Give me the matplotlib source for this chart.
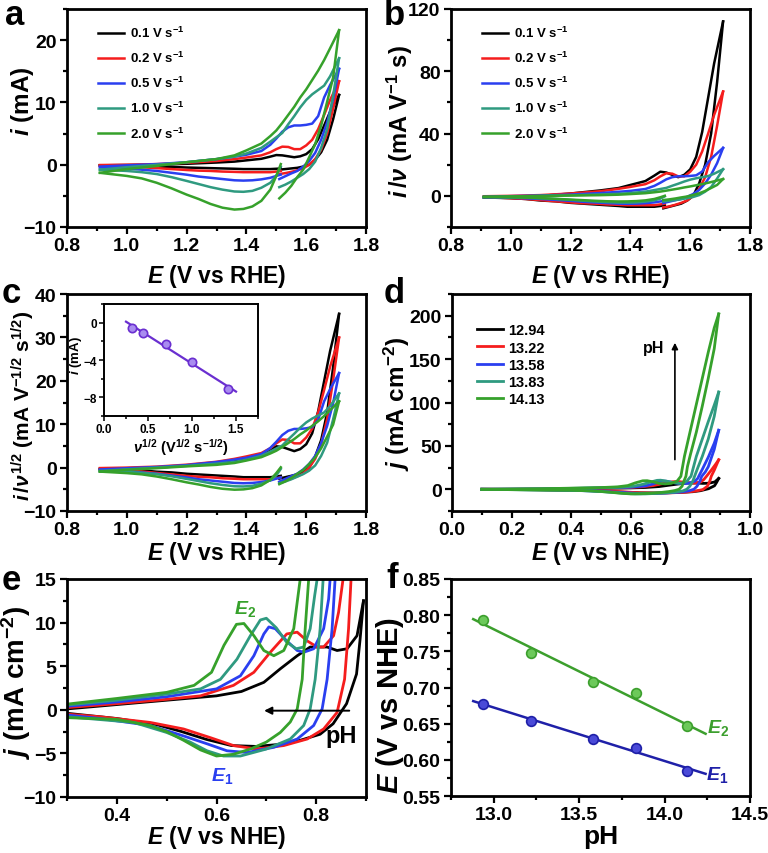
import numpy as np
import matplotlib
matplotlib.use("Agg")
import matplotlib.pyplot as plt
from matplotlib.ticker import MultipleLocator

plt.rcParams.update({
    "font.family": "Liberation Sans",
    "font.weight": "bold",
    "axes.labelweight": "bold",
    "mathtext.fontset": "custom",
    "mathtext.rm": "Liberation Sans:bold",
    "mathtext.it": "Liberation Sans:italic:bold",
    "mathtext.bf": "Liberation Sans:bold",
    "mathtext.sf": "Liberation Sans:bold",
})

# ---------------- panels a-c : CVs at several scan rates ----------------
rates = [0.1, 0.2, 0.5, 1.0, 2.0]
rate_labels = [r"0.1 V s$^{-1}$", r"0.2 V s$^{-1}$", r"0.5 V s$^{-1}$",
               r"1.0 V s$^{-1}$", r"2.0 V s$^{-1}$"]
colors = ["#000000", "#f51d1d", "#2a3ff0", "#2f9a80", "#36a12b"]

# anodic sweep 0.91 -> 1.71 V
a_E_up = [0.91, 1.00, 1.10, 1.20, 1.30, 1.36, 1.40, 1.45, 1.48, 1.50, 1.52,
          1.54, 1.56, 1.58, 1.60, 1.62, 1.64, 1.66, 1.68, 1.71]
up_01 = [-0.1, -0.05, 0.0, 0.15, 0.35, 0.5, 0.7, 0.95, 1.3, 1.55, 1.5,
         1.35, 1.2, 1.35, 1.7, 2.5, 4.1, 6.3, 8.5, 11.2]
up_02 = [-0.05, 0.0, 0.1, 0.3, 0.6, 0.9, 1.15, 1.5, 2.0, 2.5, 2.9,
         2.85, 2.5, 2.5, 3.1, 4.0, 5.7, 8.0, 10.4, 13.4]
up_05 = [-0.3, -0.1, 0.1, 0.4, 0.9, 1.3, 1.6, 2.2, 3.2, 4.2, 5.3,
         6.0, 6.3, 6.3, 6.4, 6.6, 7.8, 10.8, 12.8, 15.4]
up_10 = [-0.8, -0.4, 0.0, 0.4, 0.9, 1.3, 1.8, 2.7, 3.7, 4.4, 5.1,
         6.5, 7.8, 9.2, 10.4, 11.3, 12.0, 12.7, 14.2, 17.1]
up_20 = [-1.3, -0.7, -0.2, 0.4, 0.9, 1.5, 2.3, 3.4, 4.6, 5.5, 6.7,
         8.0, 9.3, 10.8, 12.1, 13.6, 15.1, 16.8, 18.7, 21.6]

# cathodic sweep 1.71 -> 1.51 V
a_E_dr = [1.71, 1.69, 1.67, 1.65, 1.63, 1.61, 1.59, 1.57, 1.55, 1.53, 1.51]
dr_01 = [11.2, 7.3, 4.0, 2.0, 0.8, 0.0, -0.3, -0.5, -0.6, -0.7, -0.8]
dr_02 = [13.4, 9.0, 5.0, 2.4, 0.9, 0.0, -0.6, -0.9, -1.15, -1.35, -1.5]
dr_05 = [15.4, 10.5, 6.8, 4.0, 1.9, 0.6, -0.3, -1.0, -1.4, -1.85, -2.3]
dr_10 = [17.1, 11.1, 5.7, 2.7, 0.5, -0.7, -1.5, -2.1, -2.7, -3.2, -3.6]
dr_20 = [21.6, 14.0, 10.1, 6.3, 3.3, 1.2, -0.8, -2.0, -3.4, -4.5, -5.4]

# cathodic sweep 1.51 -> 0.91 V
a_E_dl = [1.515, 1.50, 1.48, 1.45, 1.42, 1.39, 1.36, 1.32, 1.28, 1.24,
          1.20, 1.15, 1.10, 1.05, 1.00, 0.91]
dl_01 = [-0.6, -0.65, -0.7, -0.7, -0.7, -0.7, -0.65, -0.6, -0.55, -0.5,
         -0.45, -0.35, -0.3, -0.2, -0.15, -0.1]
dl_02 = [-1.0, -1.1, -1.2, -1.2, -1.2, -1.2, -1.15, -1.1, -1.0, -0.95,
         -0.85, -0.7, -0.55, -0.4, -0.3, -0.15]
dl_05 = [-1.6, -1.8, -2.1, -2.35, -2.5, -2.55, -2.5, -2.3, -2.1, -1.9,
         -1.6, -1.3, -1.0, -0.8, -0.6, -0.45]
dl_10 = [-0.3, -1.8, -2.9, -3.7, -4.2, -4.35, -4.3, -4.0, -3.6, -3.1,
         -2.6, -2.0, -1.5, -1.2, -1.0, -0.8]
dl_20 = [0.1, -1.8, -4.0, -5.8, -6.7, -7.1, -7.2, -6.9, -6.3, -5.5,
         -4.8, -3.8, -2.9, -2.2, -1.8, -1.3]

ups = [up_01, up_02, up_05, up_10, up_20]
drs = [dr_01, dr_02, dr_05, dr_10, dr_20]
dls = [dl_01, dl_02, dl_05, dl_10, dl_20]

# inset of c: cathodic peak current vs sqrt(scan rate)
peak_i = [-0.55, -1.1, -2.3, -4.2, -7.1]

# ---------------- panels d-e : CVs at several pH ----------------
ph_labels = ["12.94", "13.22", "13.58", "13.83", "14.13"]

ph1_up_E = [0.10, 0.20, 0.30, 0.40, 0.50, 0.60, 0.65, 0.695, 0.728, 0.762,
            0.788, 0.822, 0.842, 0.862, 0.882, 0.895]
ph1_up_j = [0.0, 0.0, 0.1, 0.6, 1.1, 1.6, 2.1, 3.15, 4.7, 6.2,
            7.2, 7.2, 6.8, 7.0, 8.5, 12.5]
ph1_dn_E = [0.895, 0.888, 0.881, 0.861, 0.834, 0.808, 0.768, 0.72, 0.68, 0.63,
            0.58, 0.53, 0.48, 0.40, 0.30, 0.20, 0.10]
ph1_dn_j = [12.5, 8.0, 4.1, 0.7, -1.6, -2.8, -3.5, -4.0, -4.2, -4.1,
            -3.4, -2.5, -1.7, -1.0, -0.4, -0.15, 0.0]

ph2_up_E = [0.10, 0.20, 0.30, 0.40, 0.50, 0.568, 0.634, 0.675, 0.708, 0.741,
            0.762, 0.782, 0.802, 0.815, 0.835, 0.845, 0.854, 0.87, 0.885, 0.895]
ph2_up_j = [0.0, 0.1, 0.25, 0.7, 1.2, 1.6, 2.8, 4.3, 6.6, 8.7,
            8.9, 7.9, 7.2, 7.2, 8.5, 11.2, 15.0, 22.0, 29.0, 34.0]
ph2_dn_E = [0.895, 0.88, 0.870, 0.865, 0.857, 0.842, 0.815, 0.782, 0.735, 0.681,
            0.634, 0.588, 0.534, 0.467, 0.367, 0.30, 0.20, 0.10]
ph2_dn_j = [34.0, 22.0, 15.0, 9.3, 3.5, -0.3, -2.2, -3.35, -4.1, -4.5,
            -4.1, -3.2, -2.2, -1.45, -0.8, -0.5, -0.2, 0.0]

ph3_up_E = [0.10, 0.20, 0.30, 0.40, 0.50, 0.60, 0.648, 0.675, 0.695, 0.705,
            0.718, 0.741, 0.762, 0.775, 0.795, 0.815, 0.825, 0.828, 0.84, 0.86,
            0.88, 0.895]
ph3_up_j = [0.0, 0.2, 0.4, 0.9, 1.5, 2.4, 3.9, 6.2, 8.7, 9.5,
            9.3, 7.9, 6.8, 6.6, 7.0, 9.3, 12.7, 15.0, 23.0, 37.0,
            53.0, 68.0]
ph3_dn_E = [0.895, 0.88, 0.86, 0.85, 0.838, 0.832, 0.822, 0.812, 0.795, 0.762,
            0.715, 0.661, 0.621, 0.581, 0.534, 0.467, 0.367, 0.30, 0.20, 0.10]
ph3_dn_j = [68.0, 46.0, 26.0, 20.0, 15.0, 9.3, 3.5, 0.1, -1.8, -3.35,
            -4.3, -4.9, -4.7, -3.9, -3.0, -1.8, -1.0, -0.6, -0.3, 0.0]

ph4_up_E = [0.10, 0.20, 0.30, 0.40, 0.50, 0.568, 0.608, 0.641, 0.668, 0.688,
            0.70, 0.72, 0.74, 0.76, 0.775, 0.788, 0.797, 0.802, 0.82, 0.84,
            0.86, 0.88, 0.895]
ph4_up_j = [0.0, 0.25, 0.55, 1.1, 1.8, 2.4, 3.5, 5.8, 8.5, 10.3,
            10.5, 9.4, 7.8, 7.0, 7.2, 9.3, 13.1, 15.0, 38.0, 58.0,
            78.0, 97.0, 112.0]
ph4_dn_E = [0.895, 0.88, 0.86, 0.84, 0.825, 0.814, 0.808, 0.798, 0.788, 0.775,
            0.748, 0.70, 0.648, 0.614, 0.581, 0.547, 0.50, 0.434, 0.30, 0.20,
            0.10]
ph4_dn_j = [112.0, 84.0, 58.0, 38.0, 25.0, 15.0, 9.3, 3.5, 0.1, -1.8,
            -3.35, -4.5, -5.3, -5.3, -4.7, -3.7, -2.6, -1.45, -0.8, -0.4,
            0.0]

ph5_up_E = [0.10, 0.20, 0.30, 0.40, 0.50, 0.555, 0.59, 0.615, 0.64, 0.655,
            0.675, 0.695, 0.715, 0.735, 0.755, 0.768, 0.78, 0.80, 0.82, 0.84,
            0.86, 0.88, 0.895]
ph5_up_j = [0.0, 0.3, 0.65, 1.3, 2.0, 2.8, 4.3, 7.4, 9.8, 9.9,
            8.5, 6.8, 6.2, 6.8, 9.3, 15.0, 38.0, 68.0, 98.0, 128.0,
            158.0, 186.0, 202.0]
ph5_dn_E = [0.895, 0.88, 0.86, 0.84, 0.82, 0.80, 0.79, 0.785, 0.778, 0.772,
            0.762, 0.748, 0.728, 0.70, 0.668, 0.634, 0.60, 0.568, 0.534, 0.50,
            0.467, 0.40, 0.30, 0.20, 0.10]
ph5_dn_j = [202.0, 162.0, 128.0, 96.0, 66.0, 40.0, 26.0, 15.0, 9.3, 3.5,
            0.1, -1.4, -2.6, -3.7, -4.5, -5.1, -5.3, -4.6, -3.5, -2.5,
            -1.8, -1.1, -0.9, -0.4, 0.0]

ph_up = [(ph1_up_E, ph1_up_j), (ph2_up_E, ph2_up_j), (ph3_up_E, ph3_up_j),
         (ph4_up_E, ph4_up_j), (ph5_up_E, ph5_up_j)]
ph_dn = [(ph1_dn_E, ph1_dn_j), (ph2_dn_E, ph2_dn_j), (ph3_dn_E, ph3_dn_j),
         (ph4_dn_E, ph4_dn_j), (ph5_dn_E, ph5_dn_j)]

# ---------------- panel f : peak potentials vs pH ----------------
ph_values = [12.94, 13.22, 13.58, 13.83, 14.13]
E2_peak = [0.793, 0.748, 0.708, 0.692, 0.647]
E1_peak = [0.677, 0.654, 0.629, 0.617, 0.585]

# ---------------- layout ----------------
W, H = 768, 854
fig = plt.figure(figsize=(W / 100, H / 100), dpi=100)


def box(l, t, r, b):
    return [l / W, 1 - b / H, (r - l) / W, (b - t) / H]


def style(ax, xlim, ylim, xmaj, xmin, ymaj, ymin, size=14, lw=2.0, pad=2.5):
    ax.set_xlim(*xlim)
    ax.set_ylim(*ylim)
    ax.xaxis.set_major_locator(MultipleLocator(xmaj))
    ax.xaxis.set_minor_locator(MultipleLocator(xmin))
    ax.yaxis.set_major_locator(MultipleLocator(ymaj))
    ax.yaxis.set_minor_locator(MultipleLocator(ymin))
    for s in ax.spines.values():
        s.set_linewidth(lw)
    ax.tick_params(which="both", direction="out", top=False, right=False,
                   labelsize=size, width=lw * 0.8, pad=pad)
    ax.tick_params(which="major", length=5)
    ax.tick_params(which="minor", length=3)


def labels(ax, xl, yl, xs, ys, xy, yx, yy):
    ax.set_xlabel(xl, fontsize=xs)
    ax.set_ylabel(yl, fontsize=ys)
    ax.xaxis.set_label_coords(0.5, xy)
    ax.yaxis.set_label_coords(yx, yy)


ax_a = fig.add_axes(box(67, 10, 366, 228))
ax_b = fig.add_axes(box(451, 10, 750, 228))
ax_c = fig.add_axes(box(67, 295, 366, 512))
ax_d = fig.add_axes(box(452, 295, 750, 512))
ax_e = fig.add_axes(box(67, 580, 366, 798))
ax_f = fig.add_axes(box(451, 580, 750, 797))
ax_in = fig.add_axes(box(104, 305, 258, 417))

LW = 1.8
xl_rhe = r"$E$ (V vs RHE)"
xl_nhe = r"$E$ (V vs NHE)"

# a, b, c
for ax, norm in [(ax_a, lambda v: 1.0), (ax_b, lambda v: v),
                 (ax_c, lambda v: np.sqrt(v))]:
    for k in range(5):
        n = norm(rates[k])
        ax.plot(a_E_up, np.array(ups[k]) / n, color=colors[k], lw=LW,
                label=rate_labels[k])
        ax.plot(a_E_dr, np.array(drs[k]) / n, color=colors[k], lw=LW)
        ax.plot(a_E_dl, np.array(dls[k]) / n, color=colors[k], lw=LW)

style(ax_a, (0.8, 1.8), (-10, 25), 0.2, 0.1, 10, 5)
style(ax_b, (0.8, 1.8), (-20, 120), 0.2, 0.1, 40, 20)
style(ax_c, (0.8, 1.8), (-10, 40), 0.2, 0.1, 10, 5)
labels(ax_a, xl_rhe, r"$i$ (mA)", 16.5, 17.5, -0.16, -0.105, 0.58)
labels(ax_b, xl_rhe, r"$i\,/\nu$ (mA V$^{-1}$ s)", 16.5, 17, -0.16, -0.12, 0.49)
labels(ax_c, xl_rhe, r"$i\,/\nu^{1/2}$ (mA V$^{-1/2}$ s$^{1/2}$)", 16.5, 15,
       -0.13, -0.1, 0.49)
for ax in (ax_a, ax_b):
    ax.legend(loc="upper left", bbox_to_anchor=(0.09, 0.945), frameon=False,
              fontsize=9.5, handlelength=2.0, handletextpad=0.4,
              labelspacing=0.75, borderaxespad=0, borderpad=0.3)

# inset
sq = np.sqrt(rates)
fit = np.polyfit(sq, peak_i, 1)
xx = np.array([0.25, 1.5])
ax_in.plot(xx, np.polyval(fit, xx), color="#6a2fd0", lw=1.6)
ax_in.plot(sq, peak_i, "o", ms=6, mfc="#a98cf0", mec="#6a2fd0", mew=1.2)
style(ax_in, (0, 1.75), (-10, 2), 0.5, 0.25, 4, 2, size=8.5, lw=1.4, pad=1.5)
ax_in.tick_params(which="major", length=3.5)
ax_in.tick_params(which="minor", length=2)
ax_in.set_ylabel(r"$i$ (mA)", fontsize=9.5)
ax_in.set_xlabel(r"$\nu^{1/2}$ (V$^{1/2}$ s$^{-1/2}$)", fontsize=10.5,
                 labelpad=1)
ax_in.yaxis.set_label_coords(-0.13, 0.55)

# d, e
for ax in (ax_d, ax_e):
    for k in range(5):
        ax.plot(*ph_up[k], color=colors[k], lw=LW + 0.2, label=ph_labels[k])
        ax.plot(*ph_dn[k], color=colors[k], lw=LW + 0.2)

style(ax_d, (0.0, 1.0), (-25, 225), 0.2, 0.1, 50, 25)
style(ax_e, (0.3, 0.9), (-10, 15), 0.2, 0.1, 5, 2.5)
labels(ax_d, xl_nhe, r"$j$ (mA cm$^{-2}$)", 16.5, 17.5, -0.13, -0.135, 0.5)
labels(ax_e, xl_nhe, r"$j$ (mA cm$^{-2}$)", 16.5, 20, -0.12, -0.115, 0.53)
ax_d.legend(loc="upper left", bbox_to_anchor=(0.07, 0.885), frameon=False,
            fontsize=10.5, handlelength=1.8, handletextpad=0.3,
            labelspacing=0.22, borderaxespad=0, borderpad=0.3)
ax_d.annotate("", xy=(0.748, 172), xytext=(0.748, 31),
              arrowprops=dict(arrowstyle="-|>", color="black", lw=1.2,
                              mutation_scale=9))
ax_d.text(0.675, 163, "pH", fontsize=11.5, ha="center", va="center")

ax_e.annotate("", xy=(0.69, -0.1), xytext=(0.872, -0.1),
              arrowprops=dict(arrowstyle="-|>", color="black", lw=1.4,
                              mutation_scale=11))
ax_e.text(0.851, -3.0, "pH", fontsize=17, ha="center", va="center")
ax_e.text(0.657, 11.7, r"$E_2$", fontsize=14, color=colors[4],
          ha="center", va="center")
ax_e.text(0.612, -7.5, r"$E_1$", fontsize=14, color=colors[2],
          ha="center", va="center")

# f
green_f, blue_f = "#3c9f2d", "#1f20a8"
xs = np.array([12.88, 14.24])
for vals, c, mfc in [(E2_peak, green_f, "#6cc95a"), (E1_peak, blue_f, "#4a4ad8")]:
    p = np.polyfit(ph_values, vals, 1)
    ax_f.plot(xs, np.polyval(p, xs), color=c, lw=LW)
    ax_f.plot(ph_values, vals, "o", ms=7, mfc=mfc, mec=c, mew=1.2)
style(ax_f, (12.75, 14.5), (0.55, 0.85), 0.5, 0.25, 0.05, 0.025)
labels(ax_f, "pH", r"$E$ (V vs NHE)", 19, 21, -0.13, -0.15, 0.42)
ax_f.text(14.31, 0.646, r"$E_2$", fontsize=14, color=green_f, ha="center",
          va="center")
ax_f.text(14.31, 0.580, r"$E_1$", fontsize=14, color=blue_f, ha="center",
          va="center")

# panel letters
for s, x, y in [("a", 5, 25), ("b", 384, 25), ("c", 2, 303), ("d", 384, 303),
                ("e", 2, 590), ("f", 386, 588)]:
    fig.text(x / W, 1 - y / H, s, fontsize=25, fontweight="bold",
             ha="left", va="baseline")

fig.savefig("out.png", dpi=100)
